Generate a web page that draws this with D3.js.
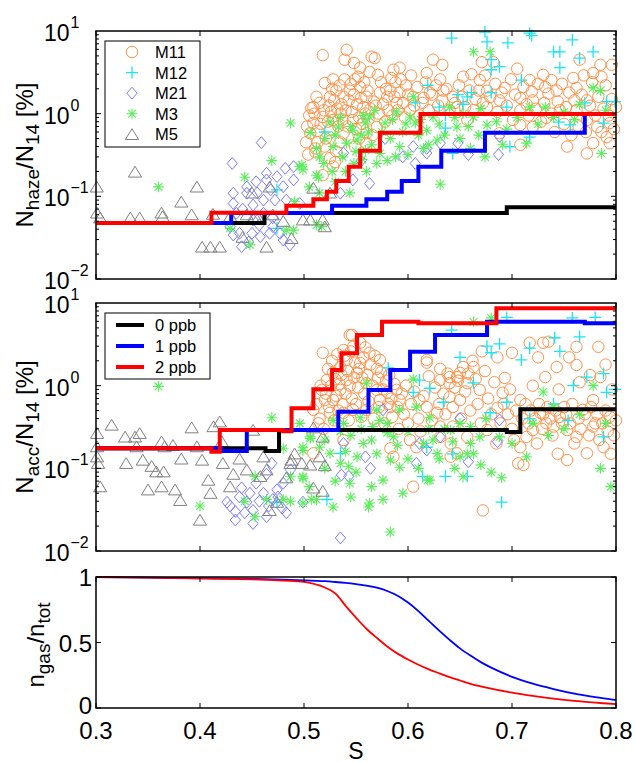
<!DOCTYPE html>
<html><head><meta charset="utf-8">
<script src="https://cdn.jsdelivr.net/npm/d3@7"></script>
<style>body{margin:0;background:#fff}svg{display:block;font-family:Arial,"Liberation Sans",Helvetica,sans-serif}</style>
</head><body><svg id="c" width="636" height="763"></svg>
<script>
// ---------------- data ----------------
const xTicks = [0.3, 0.4, 0.5, 0.6, 0.7, 0.8];
const xTickLabels = ["0.3", "0.4", "0.5", "0.6", "0.7", "0.8"];
const logTickValues = [0.01, 0.1, 1, 10];
const logTickExps = ["\u22122", "\u22121", "0", "1"];
const fracTicks = [0, 0.5, 1];
const fracTickLabels = ["0", "0.5", "1"];
const markerNames = ["M11", "M12", "M21", "M3", "M5"];
const lineNames = ["0 ppb", "1 ppb", "2 ppb"];

// top panel: N_haze/N_14 [%]
const hazeM11 = [[0.518,5.1],[0.541,5.9],[0.539,4.5],[0.565,4.9],[0.568,4.7],[0.548,4.1],[0.554,3.6],[0.549,2.6],[0.539,2.6],[0.528,2.6],[0.520,2.35],[0.512,1.6],[0.507,1.17],[0.515,1.35],[0.525,1.6],[0.531,1.9],[0.538,1.6],[0.544,1.9],[0.554,2.1],[0.560,1.6],[0.557,1.2],[0.567,1.4],[0.573,1.8],[0.571,2.95],[0.586,3.4],[0.592,3.6],[0.588,2.4],[0.583,1.9],[0.592,1.8],[0.598,2.2],[0.580,1.6],[0.589,1.35],[0.509,0.77],[0.518,0.91],[0.528,0.84],[0.535,1.0],[0.525,0.63],[0.538,0.58],[0.547,0.84],[0.511,0.38],[0.525,0.29],[0.530,0.26],[0.528,0.23],[0.560,0.58],[0.570,0.69],[0.560,0.44],[0.624,4.5],[0.618,3.1],[0.631,2.6],[0.621,1.8],[0.634,1.9],[0.643,1.6],[0.653,2.8],[0.647,1.2],[0.605,1.6],[0.602,1.1],[0.614,1.35],[0.509,1.2],[0.633,3.9],[0.671,4.2],[0.682,4.2],[0.669,2.55],[0.693,2.05],[0.708,1.55],[0.717,2.55],[0.730,2.95],[0.738,2.55],[0.732,2.1],[0.743,1.9],[0.759,2.7],[0.765,4.5],[0.785,3.9],[0.786,2.8],[0.796,3.9],[0.778,3.1],[0.762,2.05],[0.772,1.45],[0.720,1.45],[0.708,1.1],[0.701,0.84],[0.708,0.73],[0.720,0.69],[0.733,0.89],[0.746,1.1],[0.762,1.1],[0.772,0.84],[0.782,0.69],[0.794,0.77],[0.791,0.52],[0.794,0.44],[0.778,0.44],[0.772,0.33],[0.753,0.40],[0.708,0.42],[0.800,1.2],[0.676,1.2],[0.688,1.45],[0.663,1.1],[0.676,1.9],[0.688,0.58],[0.657,0.84],[0.506,0.58],[0.511,0.34],[0.518,0.18],[0.503,0.7],[0.505,0.95],[0.510,1.0],[0.513,0.62],[0.516,0.75],[0.519,1.1],[0.521,0.5],[0.523,0.8],[0.524,1.25],[0.526,1.05],[0.527,2.0],[0.529,1.45],[0.532,1.15],[0.533,0.7],[0.534,2.2],[0.536,1.3],[0.537,0.85],[0.540,1.1],[0.542,0.7],[0.543,1.45],[0.545,2.3],[0.546,1.05],[0.548,1.7],[0.550,0.65],[0.551,1.3],[0.552,2.8],[0.553,0.9],[0.555,1.55],[0.556,0.75],[0.558,2.4],[0.559,1.0],[0.561,1.9],[0.562,0.85],[0.563,3.2],[0.564,1.15],[0.566,0.55],[0.569,1.25],[0.572,1.0],[0.574,2.4],[0.576,1.3],[0.578,0.8],[0.579,2.0],[0.581,1.1],[0.584,2.7],[0.585,0.95],[0.587,1.6],[0.590,1.1],[0.593,2.6],[0.595,1.35],[0.597,0.9],[0.600,1.7],[0.603,2.9],[0.606,1.25],[0.609,2.1],[0.611,0.95],[0.615,1.55],[0.617,2.4],[0.620,1.1],[0.623,1.7],[0.627,2.2],[0.629,1.25],[0.633,1.45],[0.637,2.0],[0.640,1.1],[0.645,1.35],[0.649,2.2],[0.652,1.6],[0.655,1.2],[0.659,1.9],[0.661,3.0],[0.665,1.5],[0.668,1.9],[0.672,1.35],[0.674,2.9],[0.679,1.6],[0.684,2.3],[0.686,1.05],[0.690,1.8],[0.695,1.25],[0.699,2.6],[0.703,1.7],[0.705,3.5],[0.711,2.1],[0.714,1.3],[0.716,0.95],[0.719,1.85],[0.723,1.15],[0.725,2.3],[0.728,0.8],[0.731,1.35],[0.735,1.75],[0.738,1.0],[0.741,0.6],[0.744,1.4],[0.748,2.3],[0.750,0.75],[0.752,1.2],[0.755,1.8],[0.757,0.55],[0.760,1.45],[0.764,0.7],[0.767,1.7],[0.769,2.9],[0.771,0.6],[0.775,1.25],[0.777,2.4],[0.780,0.95],[0.783,1.6],[0.786,0.6],[0.788,1.15],[0.790,2.2],[0.793,0.95],[0.796,1.5],[0.798,0.65],[0.502,0.45],[0.504,0.32],[0.513,0.45],[0.520,0.4],[0.531,0.35],[0.535,0.45],[0.549,0.4],[0.553,0.5]];
const hazeM12 = [[0.642,8.2],[0.674,9.7],[0.676,7.4],[0.696,7.2],[0.717,9.4],[0.719,8.8],[0.758,7.8],[0.740,5.6],[0.746,5.6],[0.778,5.6],[0.765,4.7],[0.746,3.6],[0.680,4.5],[0.688,3.7],[0.680,3.4],[0.709,2.55],[0.619,2.2],[0.648,1.7],[0.657,1.6],[0.661,1.8],[0.607,1.35],[0.680,1.8],[0.695,1.2],[0.636,0.67],[0.643,0.33],[0.698,0.40],[0.717,0.52],[0.745,0.79],[0.756,0.73],[0.770,1.35],[0.788,0.77],[0.791,1.4],[0.799,1.4],[0.520,0.6],[0.636,0.96],[0.474,0.12],[0.474,0.041],[0.653,1.3],[0.630,1.2]];
const hazeM21 = [[0.459,0.446],[0.431,0.25],[0.454,0.150],[0.464,0.19],[0.474,0.173],[0.482,0.218],[0.490,0.229],[0.490,0.158],[0.480,0.131],[0.432,0.109],[0.445,0.109],[0.432,0.082],[0.451,0.0785],[0.461,0.090],[0.472,0.090],[0.483,0.090],[0.435,0.0624],[0.451,0.0518],[0.461,0.0624],[0.438,0.0357],[0.450,0.0357],[0.458,0.0325],[0.467,0.0357],[0.480,0.0296],[0.4865,0.0258],[0.440,0.0246],[0.432,0.034],[0.429,0.043],[0.470,0.043],[0.477,0.0357],[0.464,0.158],[0.445,0.13],[0.455,0.11],[0.468,0.12],[0.441,0.07],[0.457,0.045],[0.470,0.055],[0.447,0.028],[0.496,0.082],[0.535,0.109],[0.547,0.158],[0.563,0.143],[0.538,0.334],[0.595,0.30],[0.607,0.25],[0.618,0.334],[0.631,0.44],[0.648,0.44],[0.658,0.32],[0.687,0.32],[0.688,0.53],[0.578,0.5],[0.605,0.4],[0.618,0.38],[0.555,0.27]];
const hazeM3 = [[0.360,0.13],[0.443,0.17],[0.469,0.27],[0.487,0.77],[0.498,0.24],[0.499,0.21],[0.506,0.59],[0.512,0.38],[0.512,0.18],[0.429,0.041],[0.448,0.026],[0.491,0.086],[0.483,0.039],[0.490,0.039],[0.512,0.045],[0.515,0.30],[0.514,0.17],[0.528,0.40],[0.533,0.69],[0.541,0.44],[0.547,0.63],[0.551,0.48],[0.559,0.77],[0.568,1.1],[0.570,0.25],[0.563,0.91],[0.559,0.36],[0.578,0.77],[0.580,0.27],[0.589,1.05],[0.592,0.40],[0.602,0.91],[0.605,1.6],[0.607,0.77],[0.618,0.63],[0.624,0.91],[0.628,0.48],[0.640,1.2],[0.647,0.69],[0.653,1.0],[0.663,5.6],[0.679,5.6],[0.676,0.73],[0.691,0.42],[0.714,0.44],[0.717,1.2],[0.732,1.2],[0.778,2.05],[0.785,1.9],[0.786,0.33],[0.631,0.14],[0.674,0.30],[0.544,0.11],[0.515,0.11],[0.496,0.23],[0.517,0.043],[0.663,0.91],[0.520,0.5],[0.525,0.8],[0.530,0.55],[0.535,0.9],[0.537,0.3],[0.545,0.7],[0.550,0.35],[0.555,0.55],[0.557,0.95],[0.562,0.6],[0.565,0.42],[0.575,0.6],[0.583,0.5],[0.585,0.85],[0.595,0.6],[0.598,0.75],[0.610,0.55],[0.612,0.85],[0.620,0.42],[0.630,0.75],[0.635,0.55],[0.645,0.9],[0.650,0.5],[0.658,0.7],[0.668,0.55],[0.670,1.15],[0.685,0.8],[0.695,0.65],[0.705,0.9],[0.725,0.75],[0.740,0.9],[0.750,1.05],[0.760,0.85],[0.765,1.3],[0.790,1.1],[0.519,0.25],[0.527,0.2],[0.505,0.13],[0.530,0.15],[0.540,0.2],[0.548,0.25],[0.556,0.28],[0.560,0.2],[0.573,0.33],[0.588,0.3],[0.600,0.32],[0.615,0.38],[0.660,0.38]];
const hazeM5 = [[0.3007,0.13],[0.301,0.063],[0.304,0.055],[0.3375,0.197],[0.333,0.055],[0.342,0.055],[0.363,0.063],[0.364,0.057],[0.382,0.0855],[0.392,0.060],[0.397,0.13],[0.402,0.0244],[0.410,0.0244],[0.419,0.0244],[0.4125,0.061],[0.429,0.057],[0.441,0.032],[0.450,0.11],[0.453,0.057],[0.456,0.055],[0.467,0.13],[0.464,0.0244],[0.488,0.031],[0.509,0.126],[0.506,0.052],[0.525,0.11],[0.499,0.052],[0.518,0.052],[0.520,0.043],[0.445,0.06],[0.470,0.06],[0.480,0.05]];

// middle panel: N_acc/N_14 [%]
const accM11 = [[0.518,2.5],[0.544,4.1],[0.547,2.95],[0.538,2.7],[0.541,2.05],[0.535,1.68],[0.528,1.43],[0.522,1.17],[0.517,0.89],[0.520,0.67],[0.509,0.51],[0.515,0.4],[0.525,0.47],[0.528,0.67],[0.535,0.89],[0.541,1.17],[0.551,1.43],[0.554,1.88],[0.557,2.2],[0.563,2.5],[0.573,2.05],[0.570,1.6],[0.560,1.07],[0.570,0.89],[0.580,0.83],[0.589,0.89],[0.592,0.67],[0.583,0.55],[0.573,0.67],[0.560,0.51],[0.547,0.51],[0.538,0.47],[0.509,0.152],[0.538,0.22],[0.583,0.175],[0.586,0.138],[0.605,0.06],[0.602,0.22],[0.608,0.18],[0.618,2.05],[0.631,1.17],[0.640,1.07],[0.647,1.27],[0.653,1.68],[0.640,0.73],[0.650,0.67],[0.657,1.07],[0.631,0.32],[0.641,0.2],[0.647,0.152],[0.641,0.138],[0.611,0.67],[0.618,0.55],[0.628,0.47],[0.671,2.6],[0.686,2.2],[0.693,1.24],[0.708,0.67],[0.717,3.3],[0.730,3.3],[0.735,3.4],[0.732,1.27],[0.743,1.68],[0.762,2.95],[0.783,2.95],[0.762,1.78],[0.775,1.34],[0.785,1.27],[0.796,0.9],[0.778,0.67],[0.768,0.51],[0.746,0.42],[0.733,0.35],[0.727,0.47],[0.740,0.32],[0.753,0.29],[0.762,0.24],[0.778,0.32],[0.788,0.18],[0.800,0.38],[0.772,0.152],[0.753,0.126],[0.794,0.42],[0.720,0.29],[0.714,0.24],[0.708,0.18],[0.711,0.11],[0.706,0.115],[0.676,0.29],[0.686,0.54],[0.669,0.89],[0.691,0.82],[0.672,0.031],[0.657,0.24],[0.643,0.32],[0.631,0.24],[0.640,1.27],[0.631,1.6],[0.663,1.68],[0.650,1.43],[0.618,1.9],[0.554,3.3],[0.546,4.1],[0.512,0.6],[0.514,0.35],[0.516,1.0],[0.519,0.3],[0.521,0.8],[0.523,1.6],[0.524,0.55],[0.526,1.0],[0.527,2.0],[0.529,0.38],[0.530,1.2],[0.531,0.75],[0.532,2.4],[0.533,0.5],[0.534,1.05],[0.536,1.35],[0.537,0.6],[0.539,2.3],[0.540,0.8],[0.542,1.5],[0.543,0.38],[0.544,1.0],[0.545,2.6],[0.546,0.7],[0.548,1.25],[0.549,1.9],[0.550,0.6],[0.552,0.95],[0.553,1.6],[0.555,0.42],[0.556,1.25],[0.558,0.8],[0.559,2.9],[0.561,1.35],[0.562,0.65],[0.564,1.8],[0.566,1.0],[0.567,0.4],[0.568,2.3],[0.571,1.25],[0.572,0.55],[0.574,1.45],[0.576,0.9],[0.577,0.35],[0.579,1.15],[0.581,0.6],[0.582,1.35],[0.584,0.7],[0.585,0.42],[0.587,1.05],[0.590,0.55],[0.591,0.3],[0.594,0.8],[0.596,0.45],[0.598,1.0],[0.600,0.35],[0.603,0.6],[0.606,0.85],[0.610,0.4],[0.612,0.28],[0.615,0.75],[0.620,1.3],[0.623,0.38],[0.626,0.95],[0.630,0.6],[0.634,0.8],[0.636,0.45],[0.638,1.4],[0.643,0.55],[0.645,0.95],[0.648,1.15],[0.651,0.4],[0.655,0.85],[0.658,1.4],[0.660,0.5],[0.662,2.0],[0.665,1.2],[0.667,0.6],[0.670,0.35],[0.674,1.5],[0.677,0.7],[0.680,0.45],[0.683,1.1],[0.685,0.2],[0.689,0.35],[0.692,0.6],[0.696,0.45],[0.698,0.9],[0.700,0.3],[0.702,0.22],[0.704,0.5],[0.710,0.4],[0.713,0.6],[0.716,0.35],[0.718,0.5],[0.722,0.4],[0.724,0.2],[0.726,0.6],[0.729,0.3],[0.730,0.45],[0.734,0.55],[0.737,0.4],[0.739,0.25],[0.742,0.5],[0.744,0.15],[0.748,0.35],[0.750,0.55],[0.752,0.45],[0.756,0.35],[0.758,0.6],[0.760,0.2],[0.764,0.4],[0.766,0.3],[0.770,0.45],[0.774,0.25],[0.776,0.55],[0.780,0.35],[0.782,0.45],[0.784,0.22],[0.787,0.35],[0.790,0.5],[0.792,0.28],[0.795,0.15],[0.798,0.25],[0.720,1.0],[0.745,0.9],[0.755,2.2],[0.765,1.1],[0.790,1.8],[0.700,2.5],[0.725,2.2]];
const accM12 = [[0.642,4.7],[0.695,6.7],[0.758,6.6],[0.780,6.7],[0.765,3.9],[0.746,2.6],[0.741,3.8],[0.688,3.2],[0.680,2.5],[0.717,2.85],[0.709,2.05],[0.650,2.2],[0.663,1.08],[0.611,1.17],[0.621,0.93],[0.605,0.83],[0.581,1.64],[0.634,0.63],[0.695,0.63],[0.679,0.47],[0.740,0.6],[0.759,1.0],[0.772,1.27],[0.788,1.4],[0.791,0.83],[0.799,0.9],[0.754,0.38],[0.788,0.24],[0.717,0.4],[0.618,0.18],[0.643,0.15],[0.614,0.08],[0.636,0.08],[0.657,0.08],[0.690,0.039],[0.535,0.152],[0.522,0.042],[0.474,0.039],[0.676,3.0]];
const accM21 = [[0.429,0.035],[0.434,0.0237],[0.438,0.045],[0.445,0.039],[0.451,0.031],[0.454,0.066],[0.461,0.050],[0.464,0.085],[0.469,0.115],[0.470,0.042],[0.474,0.055],[0.479,0.033],[0.483,0.029],[0.487,0.096],[0.480,0.066],[0.464,0.026],[0.443,0.029],[0.434,0.030],[0.426,0.039],[0.451,0.0215],[0.440,0.058],[0.457,0.04],[0.466,0.035],[0.475,0.045],[0.448,0.05],[0.499,0.039],[0.536,0.083],[0.543,0.080],[0.559,0.138],[0.564,0.10],[0.576,0.51],[0.608,0.115],[0.611,0.20],[0.618,0.166],[0.631,0.24],[0.650,0.40],[0.535,0.0144],[0.538,0.20],[0.688,0.385],[0.686,0.21],[0.658,0.12]];
const accM3 = [[0.360,0.98],[0.400,0.035],[0.469,0.41],[0.443,0.04],[0.453,0.026],[0.464,0.042],[0.480,0.042],[0.487,0.040],[0.499,0.038],[0.507,0.042],[0.453,0.08],[0.487,0.079],[0.499,0.076],[0.506,0.23],[0.499,0.165],[0.480,0.175],[0.496,0.35],[0.506,0.24],[0.499,0.18],[0.499,0.079],[0.512,0.042],[0.528,0.034],[0.544,0.066],[0.543,0.106],[0.557,0.2],[0.560,1.07],[0.563,0.038],[0.576,0.042],[0.583,0.017],[0.576,0.072],[0.583,0.126],[0.592,0.103],[0.586,0.24],[0.573,0.38],[0.570,0.51],[0.592,0.51],[0.605,1.2],[0.608,0.55],[0.621,0.41],[0.624,0.22],[0.628,0.151],[0.621,0.072],[0.641,0.29],[0.643,0.21],[0.653,0.079],[0.650,0.138],[0.657,0.15],[0.528,0.38],[0.538,0.35],[0.554,0.41],[0.566,0.32],[0.580,0.27],[0.515,0.18],[0.525,0.152],[0.535,0.115],[0.551,0.138],[0.663,5.9],[0.680,6.6],[0.730,0.84],[0.778,1.0],[0.740,0.55],[0.688,0.24],[0.714,0.138],[0.690,0.077],[0.619,0.072],[0.562,0.034],[0.785,0.10],[0.669,0.24],[0.663,0.15],[0.505,0.06],[0.520,0.10],[0.530,0.07],[0.545,0.045],[0.550,0.09],[0.565,0.06],[0.570,0.15],[0.590,0.19],[0.595,0.05],[0.600,0.13],[0.610,0.10],[0.615,0.20],[0.630,0.13],[0.635,0.30],[0.645,0.10],[0.660,0.20],[0.670,0.11],[0.675,0.40],[0.680,0.09],[0.700,0.20],[0.720,0.35],[0.735,0.25],[0.750,0.30],[0.765,0.45],[0.790,0.35],[0.545,0.25],[0.555,0.30],[0.565,0.22],[0.580,0.35],[0.600,0.28],[0.620,0.30],[0.650,0.35],[0.660,0.32],[0.520,0.22],[0.535,0.28],[0.540,0.16],[0.795,0.06]];
const accM5 = [[0.301,0.265],[0.301,0.183],[0.301,0.138],[0.302,0.115],[0.304,0.060],[0.315,0.334],[0.328,0.24],[0.329,0.115],[0.3375,0.24],[0.339,0.183],[0.342,0.265],[0.345,0.126],[0.350,0.055],[0.3535,0.106],[0.358,0.091],[0.363,0.21],[0.365,0.091],[0.363,0.060],[0.366,0.183],[0.374,0.19],[0.376,0.055],[0.381,0.041],[0.382,0.13],[0.392,0.31],[0.397,0.183],[0.400,0.0237],[0.402,0.126],[0.408,0.072],[0.410,0.05],[0.419,0.366],[0.413,0.32],[0.421,0.21],[0.422,0.115],[0.429,0.060],[0.432,0.085],[0.438,0.13],[0.445,0.096],[0.451,0.29],[0.458,0.08],[0.461,0.138],[0.464,0.096],[0.467,0.031],[0.487,0.115],[0.488,0.126],[0.491,0.15],[0.483,0.077],[0.474,0.039],[0.509,0.058],[0.509,0.31],[0.518,0.24],[0.515,0.138],[0.506,0.11],[0.520,0.108],[0.498,0.115],[0.518,0.053]];

// step curves (S, value)
const haze0ppb = [[0.3,0.0475],[0.462,0.063],[0.695,0.074],[0.8,0.074]];
const haze1ppb = [[0.3,0.0475],[0.430,0.063],[0.527,0.077],[0.560,0.092],[0.580,0.114],[0.594,0.153],[0.610,0.228],[0.632,0.356],[0.674,0.589],[0.770,0.99],[0.8,0.99]];
const haze2ppb = [[0.3,0.0475],[0.411,0.0634],[0.483,0.077],[0.509,0.092],[0.522,0.114],[0.531,0.153],[0.543,0.228],[0.554,0.356],[0.573,0.589],[0.612,0.99],[0.8,0.99]];
const acc0ppb = [[0.3,0.175],[0.463,0.162],[0.476,0.291],[0.695,0.275],[0.708,0.52],[0.8,0.52]];
const acc1ppb = [[0.3,0.175],[0.421,0.162],[0.445,0.291],[0.533,0.484],[0.562,0.888],[0.583,1.55],[0.602,2.58],[0.626,4.10],[0.676,5.94],[0.770,5.68],[0.8,5.68]];
const acc2ppb = [[0.3,0.175],[0.411,0.159],[0.419,0.291],[0.480,0.28],[0.488,0.532],[0.509,0.903],[0.527,1.55],[0.536,2.46],[0.551,4.10],[0.575,5.94],[0.610,5.68],[0.685,8.62],[0.8,8.62]];

// bottom panel: n_gas/n_tot
const gasS = [0.30,0.35,0.40,0.45,0.48,0.50,0.52,0.53,0.54,0.55,0.56,0.57,0.58,0.59,0.60,0.61,0.62,0.63,0.64,0.65,0.66,0.67,0.68,0.70,0.72,0.74,0.76,0.78,0.80];
const gas1ppb = [1.0,0.995,0.99,0.985,0.98,0.975,0.968,0.962,0.955,0.946,0.935,0.918,0.893,0.857,0.805,0.74,0.665,0.59,0.52,0.455,0.4,0.35,0.308,0.238,0.186,0.145,0.11,0.083,0.06];
const gas2ppb = [1.0,0.995,0.99,0.982,0.972,0.962,0.92,0.875,0.78,0.69,0.605,0.535,0.47,0.415,0.37,0.33,0.295,0.265,0.235,0.21,0.185,0.165,0.148,0.117,0.092,0.071,0.054,0.041,0.03];

// ---------------- drawing ----------------
const svg = d3.select("#c");
const FONT = 'Arial,"Liberation Sans",Helvetica,sans-serif';
const x = d3.scaleLinear().domain([0.3, 0.8]).range([96, 616]);
const yTop = d3.scaleLog().domain([0.01, 10]).range([279, 31]);
const yMid = d3.scaleLog().domain([0.01, 10]).range([551, 303]);
const yBot = d3.scaleLinear().domain([0, 1]).range([708, 577]);

const symCircle = {draw(c, r) { c.moveTo(r, 0); c.arc(0, 0, r, 0, 2 * Math.PI); }};
const symPlus = {draw(c, r) { c.moveTo(-r, 0); c.lineTo(r, 0); c.moveTo(0, -r); c.lineTo(0, r); }};
const symDiamond = {draw(c, r) { c.moveTo(0, -r * 1.1); c.lineTo(r * 0.95, 0); c.lineTo(0, r * 1.1); c.lineTo(-r * 0.95, 0); c.closePath(); }};
const symAster = {draw(c, r) {
  const d = r * 0.72;
  c.moveTo(-r, 0); c.lineTo(r, 0); c.moveTo(0, -r); c.lineTo(0, r);
  c.moveTo(-d, -d); c.lineTo(d, d); c.moveTo(-d, d); c.lineTo(d, -d);
}};
const symTri = {draw(c, r) { c.moveTo(0, -r * 0.95); c.lineTo(r * 1.1, r * 0.85); c.lineTo(-r * 1.1, r * 0.85); c.closePath(); }};

const markerStyles = [
  {type: symCircle, r: 5.7, color: "#ff9148", sw: 1},
  {type: symPlus, r: 6, color: "#19e6f2", sw: 1.3},
  {type: symDiamond, r: 5.4, color: "#7a7aff", sw: 1},
  {type: symAster, r: 5.4, color: "#5cee5c", sw: 1.1},
  {type: symTri, r: 6, color: "#808080", sw: 1}
];
const lineColors = ["#000000", "#0000ff", "#ff0000"];

function drawMarkers(g, data, y, st) {
  const gen = d3.symbol().type(st.type).size(st.r);
  g.append("g").selectAll("path").data(data).join("path")
    .attr("transform", d => `translate(${x(d[0])},${y(d[1])})`)
    .attr("d", gen())
    .attr("fill", "none").attr("stroke", st.color).attr("stroke-width", st.sw);
}

function drawSteps(g, data, y, color) {
  const line = d3.line().x(d => x(d[0])).y(d => y(d[1])).curve(d3.curveStepAfter);
  g.append("path").datum(data).attr("d", line)
    .attr("fill", "none").attr("stroke", color).attr("stroke-width", 4)
    .attr("stroke-linejoin", "miter");
}

function frame(g, y, logAxis) {
  const [y0, y1] = y.range();
  const xl = x.range()[0], xr = x.range()[1];
  const t = g.append("g").attr("stroke", "#000").attr("stroke-width", 1);
  xTicks.forEach(v => {
    const px = x(v);
    t.append("line").attr("x1", px).attr("x2", px).attr("y1", y0).attr("y2", y0 - 5);
    t.append("line").attr("x1", px).attr("x2", px).attr("y1", y1).attr("y2", y1 + 5);
  });
  if (logAxis) {
    for (let e = -2; e < 1; e++) {
      for (let m = 1; m <= 9; m++) {
        const v = m * Math.pow(10, e);
        const py = y(v), len = m === 1 ? 5 : 3;
        t.append("line").attr("x1", xl).attr("x2", xl + len).attr("y1", py).attr("y2", py);
        t.append("line").attr("x1", xr).attr("x2", xr - len).attr("y1", py).attr("y2", py);
      }
    }
  } else {
    fracTicks.forEach(v => {
      const py = y(v);
      t.append("line").attr("x1", xl).attr("x2", xl + 5).attr("y1", py).attr("y2", py);
      t.append("line").attr("x1", xr).attr("x2", xr - 5).attr("y1", py).attr("y2", py);
    });
  }
  g.append("rect").attr("x", xl).attr("y", y1).attr("width", xr - xl).attr("height", y0 - y1)
    .attr("fill", "none").attr("stroke", "#000").attr("stroke-width", 1.5);
}

function logLabels(g, y) {
  logTickValues.forEach((v, i) => {
    const py = y(v);
    g.append("text").attr("x", 44).attr("y", py + 10).attr("font-size", 23).attr("font-family", FONT).text("10");
    g.append("text").attr("x", 70.5).attr("y", py - 3).attr("font-size", 16).attr("font-family", FONT).text(logTickExps[i]);
  });
}

function yLabel(g, cx, cy, parts) {
  const t = g.append("text").attr("transform", `translate(${cx},${cy}) rotate(-90)`)
    .attr("text-anchor", "middle").attr("font-family", FONT);
  let shift = 0;
  parts.forEach(p => {
    const s = t.append("tspan").text(p[0]);
    if (p[1]) { s.attr("font-size", 19).attr("dy", 6 - shift); shift = 6; }
    else { s.attr("font-size", 24).attr("dy", -shift); shift = 0; }
  });
}

// ---- top panel ----
const gTop = svg.append("g");
const topSets = [hazeM11, hazeM12, hazeM21, hazeM3, hazeM5];
topSets.forEach((d, i) => drawMarkers(gTop, d, yTop, markerStyles[i]));
[haze0ppb, haze1ppb, haze2ppb].forEach((d, i) => drawSteps(gTop, d, yTop, lineColors[i]));
frame(gTop, yTop, true);
logLabels(gTop, yTop);
yLabel(gTop, 33, 155, [["N"], ["haze", 1], ["/N"], ["14", 1], [" [%]"]]);
// legend
const lg = gTop.append("g");
lg.append("rect").attr("x", 105).attr("y", 41).attr("width", 95).attr("height", 106)
  .attr("fill", "#fff").attr("stroke", "#000").attr("stroke-width", 1);
markerNames.forEach((n, i) => {
  const cy = 52 + i * 20.6, st = markerStyles[i];
  lg.append("path").attr("transform", `translate(132,${cy})`)
    .attr("d", d3.symbol().type(st.type).size(st.r)())
    .attr("fill", "none").attr("stroke", st.color).attr("stroke-width", st.sw);
  lg.append("text").attr("x", 155).attr("y", cy + 6).attr("font-size", 16.5).attr("font-family", FONT).text(n);
});

// ---- middle panel ----
const gMid = svg.append("g");
const midSets = [accM11, accM12, accM21, accM3, accM5];
midSets.forEach((d, i) => drawMarkers(gMid, d, yMid, markerStyles[i]));
[acc0ppb, acc1ppb, acc2ppb].forEach((d, i) => drawSteps(gMid, d, yMid, lineColors[i]));
frame(gMid, yMid, true);
logLabels(gMid, yMid);
yLabel(gMid, 33, 427, [["N"], ["acc", 1], ["/N"], ["14", 1], [" [%]"]]);
const lg2 = gMid.append("g");
lg2.append("rect").attr("x", 105).attr("y", 313).attr("width", 105).attr("height", 66)
  .attr("fill", "#fff").attr("stroke", "#000").attr("stroke-width", 1);
lineNames.forEach((n, i) => {
  const cy = 325 + i * 21;
  lg2.append("line").attr("x1", 116).attr("x2", 144).attr("y1", cy).attr("y2", cy)
    .attr("stroke", lineColors[i]).attr("stroke-width", 4);
  lg2.append("text").attr("x", 155).attr("y", cy + 6).attr("font-size", 16.5).attr("font-family", FONT).text(n);
});

// ---- bottom panel ----
const gBot = svg.append("g");
const curve = arr => d3.line().x((d, i) => x(gasS[i])).y(d => yBot(d)).curve(d3.curveCatmullRom.alpha(0.5))(arr);
gBot.append("path").attr("d", curve(gas1ppb)).attr("fill", "none").attr("stroke", "#0000ff").attr("stroke-width", 1.8);
gBot.append("path").attr("d", curve(gas2ppb)).attr("fill", "none").attr("stroke", "#ff0000").attr("stroke-width", 1.8);
frame(gBot, yBot, false);
fracTicks.forEach((v, i) => {
  gBot.append("text").attr("x", 92).attr("y", yBot(v) + (v === 0 ? 6 : 9)).attr("text-anchor", "end")
    .attr("font-size", 24).attr("font-family", FONT).text(fracTickLabels[i]);
});
xTicks.forEach((v, i) => {
  gBot.append("text").attr("x", x(v)).attr("y", 739).attr("text-anchor", "middle")
    .attr("font-size", 24).attr("font-family", FONT).text(xTickLabels[i]);
});
gBot.append("text").attr("x", 356).attr("y", 759).attr("text-anchor", "middle")
  .attr("font-size", 23).attr("font-family", FONT).text("S");
yLabel(gBot, 44, 645, [["n"], ["gas", 1], ["/n"], ["tot", 1]]);
</script></body></html>
